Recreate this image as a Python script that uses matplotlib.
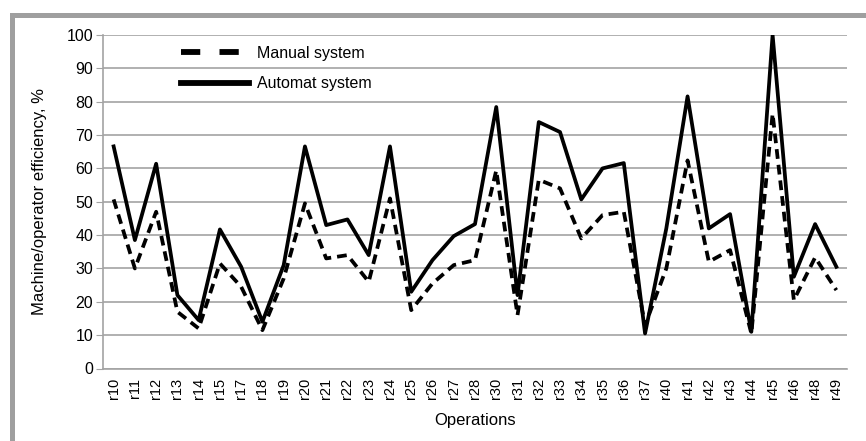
import numpy as np
import matplotlib
matplotlib.use("Agg")
import matplotlib.pyplot as plt
from matplotlib.patches import Rectangle
from matplotlib.lines import Line2D

plt.rcParams['font.family'] = ['Liberation Sans', 'DejaVu Sans']

# operations on the x axis
operations = ['r10', 'r11', 'r12', 'r13', 'r14', 'r15', 'r17', 'r18', 'r19', 'r20',
              'r21', 'r22', 'r23', 'r24', 'r25', 'r26', 'r27', 'r28', 'r30', 'r31',
              'r32', 'r33', 'r34', 'r35', 'r36', 'r37', 'r40', 'r41', 'r42', 'r43',
              'r44', 'r45', 'r46', 'r48', 'r49']

# efficiency values, %
manual = [50.7, 30, 47, 17, 12, 31.5, 24.5, 11.5, 27, 49.5,
          33, 34, 26, 51, 17.5, 25.5, 31, 32.5, 59.4, 16,
          56.6, 54, 39, 46, 47, 13, 30, 62.4, 32, 35.5,
          10.5, 76.4, 20.5, 33.3, 23.5]
automat = [66.6, 38.5, 61.4, 22, 14.5, 41.7, 30.5, 14, 31, 66.6,
           43, 44.7, 34, 66.6, 23, 32.5, 39.7, 43.3, 78.4, 22,
           73.9, 70.9, 50.7, 60, 61.6, 10.5, 42, 81.6, 42, 46.3,
           11, 100, 27.5, 43.3, 30.5]

grey = '#a3a3a3'

fig = plt.figure(figsize=(8.66, 4.41), dpi=100)
ax = fig.add_axes([103/866, 1-368.5/441, (847-103)/866, (368.5-35)/441])

x = np.arange(len(operations))
ax.plot(x, manual, color='black', lw=2.7, linestyle=(0, (2.6, 1.6)))
ax.plot(x, automat, color='black', lw=2.7)

ax.set_xlim(-0.5, len(operations)-0.5)
ax.set_ylim(0, 100)
ax.set_yticks(np.arange(0, 101, 10))
ax.set_xticks(x)
ax.set_xticklabels(operations, rotation=90, fontsize=10.5)
ax.tick_params(axis='y', labelsize=11.5, length=5, color=grey, pad=2)
ax.tick_params(axis='x', length=0, pad=7)
ax.yaxis.grid(True, color=grey, lw=1.2)
ax.set_axisbelow(True)
for s in ['top', 'right']:
    ax.spines[s].set_visible(False)
for s in ['left', 'bottom']:
    ax.spines[s].set_color(grey)
    ax.spines[s].set_linewidth(1.2)

ax.set_ylabel('Machine/operator efficiency, %', fontsize=12, labelpad=14)
ax.set_xlabel('Operations', fontsize=12, labelpad=10)

# legend handles drawn like the original: two long dashes / one thick bar
handles = [Line2D([], [], color='black', lw=4.2, linestyle=(0, (3.3, 3.3))),
           Line2D([], [], color='black', lw=4.2)]
ax.legend(handles, ['Manual system', 'Automat system'], loc='upper left',
          bbox_to_anchor=(0.085, 1.01), frameon=False, fontsize=11.5,
          handlelength=4.3, handletextpad=0.5, labelspacing=0.95)

# grey frame round the picture (top and left edges)
fig.patches.append(Rectangle((10/866, 0), 5/866, 1-13/441, transform=fig.transFigure,
                             color='#9f9f9f', lw=0))
fig.patches.append(Rectangle((10/866, 1-18/441), 1, 5/441, transform=fig.transFigure,
                             color='#9f9f9f', lw=0))

fig.savefig('out.png', dpi=100)
